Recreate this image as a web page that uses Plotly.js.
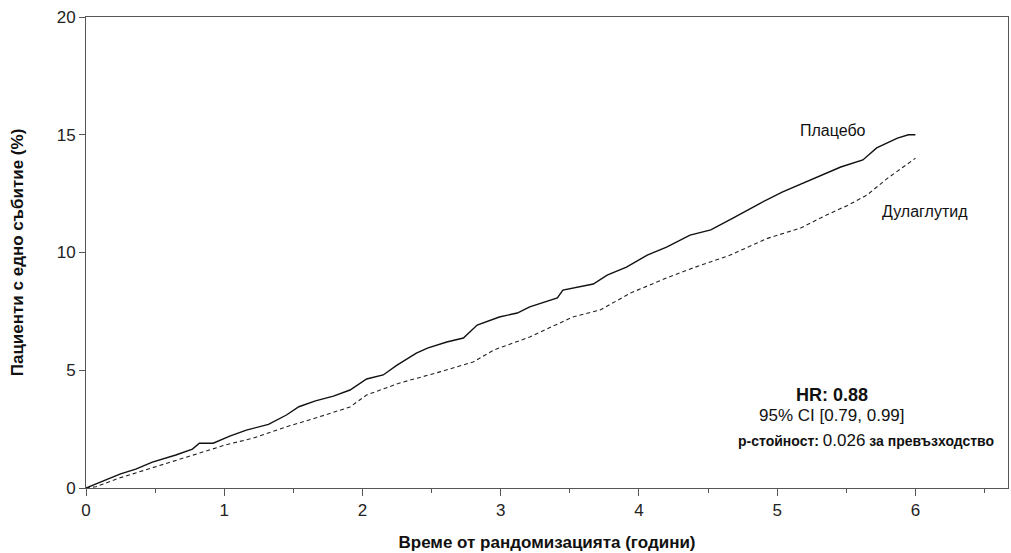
<!DOCTYPE html>
<html>
<head>
<meta charset="utf-8">
<script src="https://cdn.plot.ly/plotly-3.0.1.min.js"></script>
<style>html,body{margin:0;padding:0;background:#fff;}#chart{width:1011px;height:553px;}</style>
</head>
<body>
<div id="chart"></div>
<script>
var timesPlacebo = [0,0.145,0.25,0.36,0.48,0.65,0.77,0.82,0.92,1.04,1.16,1.32,1.45,1.54,1.66,1.79,1.91,2.03,2.15,2.25,2.39,2.47,2.61,2.73,2.83,2.99,3.12,3.21,3.41,3.45,3.67,3.77,3.91,4.06,4.2,4.37,4.52,4.68,4.88,5.04,5.24,5.46,5.62,5.72,5.87,5.95,6.0];
var placebo = [0,0.34,0.6,0.8,1.1,1.4,1.65,1.9,1.9,2.2,2.46,2.7,3.1,3.45,3.7,3.9,4.16,4.63,4.8,5.22,5.73,5.94,6.2,6.37,6.92,7.26,7.43,7.69,8.07,8.4,8.66,9.04,9.38,9.89,10.23,10.74,10.96,11.46,12.1,12.57,13.08,13.63,13.93,14.44,14.86,15.0,15.0];
var timesDula = [0,0.07,0.24,0.48,0.67,0.85,1.01,1.21,1.45,1.66,1.91,2.03,2.27,2.56,2.8,2.95,3.21,3.52,3.72,3.94,4.2,4.39,4.66,4.93,5.17,5.36,5.51,5.65,5.8,6.0];
var dula = [0,0.05,0.42,0.85,1.19,1.53,1.83,2.12,2.6,2.97,3.44,3.95,4.46,4.93,5.35,5.86,6.41,7.26,7.56,8.28,8.92,9.34,9.89,10.6,11.04,11.6,12.0,12.44,13.16,14.0];
var xTicks = [0,1,2,3,4,5,6];
var yTicks = [0,5,10,15,20];
var seriesNames = ['Плацебо','Дулаглутид'];

var FONT = 'Liberation Sans, Arial, sans-serif';
var traces = [
  {x: timesPlacebo, y: placebo, mode: 'lines', name: seriesNames[0],
   line: {color: '#111', width: 1.4}},
  {x: timesDula, y: dula, mode: 'lines', name: seriesNames[1],
   line: {color: '#222', width: 1.1, dash: '4px,3px'}}
];
var layout = {
  width: 1011, height: 553,
  margin: {l: 86, r: 3, t: 17, b: 65},
  paper_bgcolor: '#fff', plot_bgcolor: '#fff',
  showlegend: false,
  font: {family: FONT, color: '#222'},
  xaxis: {
    range: [0, 6.67], tickvals: xTicks, ticktext: xTicks.map(String),
    ticks: 'outside', ticklen: 7, tickcolor: '#555', tickwidth: 1,
    minor: {dtick: 0.5, tick0: 0, ticks: 'outside', ticklen: 4, tickcolor: '#555', tickwidth: 1},
    showgrid: false, zeroline: false, showline: true, linecolor: '#555', linewidth: 1, mirror: true,
    tickfont: {size: 17, family: FONT, color: '#222'},
    title: {text: '<b>Време от рандомизацията (години)</b>', font: {size: 17, family: FONT, color: '#111'}, standoff: 16}
  },
  yaxis: {
    range: [0, 20], tickvals: yTicks, ticktext: yTicks.map(String),
    ticks: 'outside', ticklen: 6, tickcolor: '#555', tickwidth: 1,
    showgrid: false, zeroline: false, showline: true, linecolor: '#555', linewidth: 1, mirror: true,
    tickfont: {size: 17, family: FONT, color: '#222'},
    title: {text: '<b>Пациенти с едно събитие (%)</b>', font: {size: 17, family: FONT, color: '#111'}, standoff: 28}
  },
  annotations: [
    {x: 5.405, y: 15.2, xref: 'x', yref: 'y', text: seriesNames[0], showarrow: false,
     font: {size: 16, family: FONT, color: '#111'}},
    {x: 6.07, y: 11.76, xref: 'x', yref: 'y', text: seriesNames[1], showarrow: false,
     font: {size: 16, family: FONT, color: '#111'}},
    {x: 5.40, y: 3.95, xref: 'x', yref: 'y', text: '<b>HR: 0.88</b>', showarrow: false,
     font: {size: 18, family: FONT, color: '#111'}},
    {x: 5.40, y: 3.06, xref: 'x', yref: 'y', text: '95% CI [0.79, 0.99]', showarrow: false,
     font: {size: 17, family: FONT, color: '#111'}},
    {x: 5.64, y: 2.0, xref: 'x', yref: 'y',
     text: '<b>p-стойност:</b> <span style="font-size:17px">0.026</span> <b>за превъзходство</b>', showarrow: false,
     font: {size: 14, family: FONT, color: '#111'}}
  ]
};
Plotly.newPlot('chart', traces, layout, {staticPlot: true, displayModeBar: false});
</script>
</body>
</html>
